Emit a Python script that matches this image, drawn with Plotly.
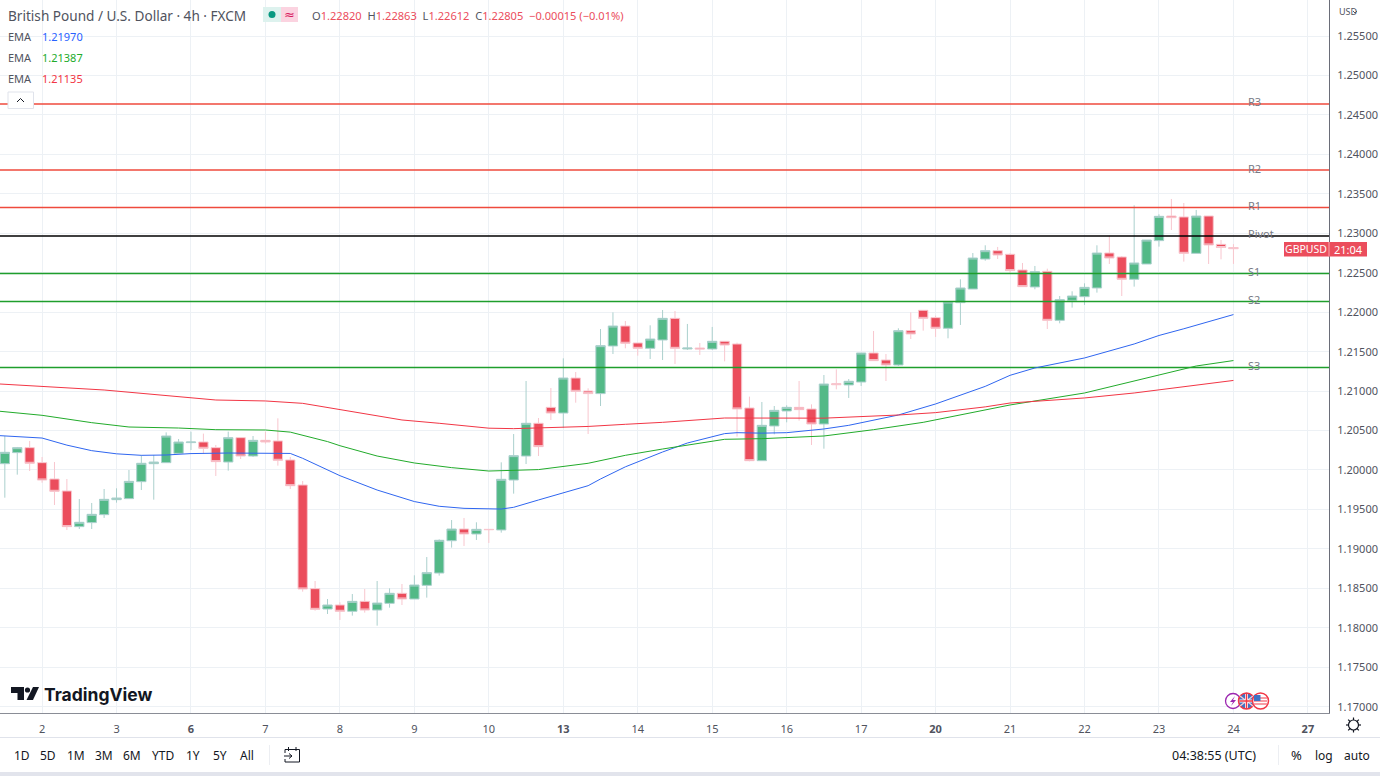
import plotly.graph_objects as go

# ---------- data ----------
bar_index = list(range(100))
opens = [1.20080,1.20220,1.20283,1.20093,1.19886,1.19734,1.19282,1.19333,1.19434,1.19624,
1.19637,1.19852,1.20080,1.20093,1.20211,1.20347,1.20355,1.20283,1.20101,1.20410,
1.20177,1.20376,1.20368,1.20127,1.19810,1.18496,1.18238,1.18289,1.18209,1.18335,
1.18225,1.18310,1.18437,1.18365,1.18538,1.18694,1.19104,1.19252,1.19189,1.19248,
1.19240,1.19873,1.20177,1.20592,1.20794,1.20722,1.21166,1.21001,1.20968,1.21572,
1.21825,1.21610,1.21542,1.21648,1.21922,1.21534,1.21546,1.21534,1.21631,1.21597,
1.20786,1.20118,1.20558,1.20748,1.20794,1.20773,1.20583,1.21094,1.21078,1.21115,
1.21483,1.21394,1.21331,1.21766,1.22024,1.21931,1.21796,1.22121,1.22294,1.22674,
1.22780,1.22734,1.22535,1.22320,1.22518,1.21897,1.22150,1.22197,1.22307,1.22750,
1.22700,1.22417,1.22611,1.22907,1.23219,1.23207,1.22746,1.23219,1.22860,1.22820]
highs = [1.20431,1.20292,1.20368,1.20165,1.20101,1.19886,1.19632,1.19582,1.19759,1.19768,
1.20000,1.20190,1.20190,1.20477,1.20393,1.20486,1.20461,1.20317,1.20486,1.20410,
1.20431,1.20486,1.20655,1.20165,1.19861,1.18593,1.18365,1.18323,1.18428,1.18492,
1.18593,1.18500,1.18555,1.18665,1.18897,1.19121,1.19366,1.19392,1.19337,1.19248,
1.20097,1.20456,1.21128,1.20659,1.21039,1.21415,1.21242,1.21035,1.21787,1.21998,
1.21889,1.21610,1.21834,1.22028,1.22015,1.21851,1.21610,1.21813,1.21631,1.21614,
1.20930,1.20862,1.20811,1.20820,1.21128,1.20832,1.21204,1.21276,1.21153,1.21483,
1.21762,1.21470,1.21796,1.21998,1.22024,1.21956,1.22142,1.22417,1.22750,1.22848,
1.22827,1.22746,1.22624,1.22586,1.22552,1.22205,1.22265,1.22366,1.22848,1.22970,
1.22712,1.23355,1.22915,1.23241,1.23435,1.23384,1.23296,1.23219,1.22915,1.22863]
lows = [1.19649,1.19941,1.19987,1.19839,1.19556,1.19239,1.19252,1.19252,1.19392,1.19586,
1.19637,1.19746,1.19624,1.20093,1.20211,1.20253,1.20211,1.19924,1.19992,1.20139,
1.20165,1.20334,1.20055,1.19759,1.18458,1.18217,1.18175,1.18099,1.18154,1.18192,
1.18027,1.18255,1.18289,1.18365,1.18382,1.18661,1.19016,1.19037,1.19113,1.19075,
1.19206,1.19700,1.20076,1.20177,1.20634,1.20532,1.20853,1.20456,1.20811,1.21470,
1.21542,1.21449,1.21407,1.21394,1.21344,1.21521,1.21458,1.21521,1.21377,1.20423,
1.20110,1.20118,1.20452,1.20604,1.20625,1.20317,1.20270,1.21022,1.20913,1.21065,
1.21386,1.21128,1.21318,1.21660,1.21766,1.21686,1.21669,1.21838,1.22294,1.22653,
1.22674,1.22493,1.22324,1.22290,1.21787,1.21859,1.22058,1.22091,1.22248,1.22611,
1.22205,1.22324,1.22611,1.22831,1.23042,1.22641,1.22746,1.22611,1.22670,1.22612]
closes = [1.20224,1.20283,1.20085,1.19873,1.19730,1.19282,1.19337,1.19438,1.19628,1.19645,
1.19856,1.20085,1.20101,1.20431,1.20355,1.20355,1.20275,1.20106,1.20410,1.20177,
1.20376,1.20355,1.20123,1.19801,1.18492,1.18234,1.18289,1.18209,1.18335,1.18225,
1.18314,1.18437,1.18365,1.18542,1.18699,1.19109,1.19252,1.19189,1.19248,1.19244,
1.19882,1.20182,1.20592,1.20296,1.20722,1.21166,1.20997,1.20968,1.21576,1.21825,
1.21606,1.21542,1.21660,1.21922,1.21542,1.21546,1.21534,1.21631,1.21584,1.20773,
1.20118,1.20566,1.20756,1.20794,1.20765,1.20583,1.21090,1.21082,1.21124,1.21483,
1.21386,1.21331,1.21766,1.21724,1.21922,1.21796,1.22129,1.22307,1.22687,1.22780,
1.22725,1.22527,1.22324,1.22514,1.21897,1.22159,1.22205,1.22315,1.22750,1.22687,
1.22417,1.22624,1.22915,1.23215,1.23198,1.22746,1.23219,1.22852,1.22820,1.22805]

ema_blue_x = [-0.39,3,5,7,9,11,13,15,18,20,23,24,26,27,30,33,35,37,40,41,43,47,48,50,53,55,58,59,61,63,66,68,72,75,79,81,83,87,91,93,95,99]
ema_blue = [1.20435,1.20405,1.20315,1.20245,1.20205,1.20186,1.20190,1.20208,1.20215,1.20215,1.20210,1.20148,1.20000,1.19928,1.19746,1.19600,1.19540,1.19514,1.19505,1.19527,1.19620,1.19801,1.19886,1.20040,1.20228,1.20342,1.20461,1.20473,1.20467,1.20473,1.20520,1.20566,1.20697,1.20837,1.21060,1.21200,1.21293,1.21420,1.21597,1.21705,1.21790,1.21970]
ema_green_x = [-0.39,3,7,10,14,17,21,23,26,27,30,33,36,39,43,47,50,53,58,61,66,70,74,79,81,87,91,96,99]
ema_green = [1.20744,1.20693,1.20600,1.20545,1.20532,1.20511,1.20507,1.20480,1.20360,1.20308,1.20177,1.20089,1.20030,1.19987,1.20005,1.20085,1.20186,1.20266,1.20389,1.20397,1.20431,1.20511,1.20604,1.20760,1.20824,1.20976,1.21128,1.21318,1.21387]
ema_red_x = [-0.39,8,17,21,24,26,32,35,39,41,47,50,53,58,66,72,75,79,81,87,91,99]
ema_red = [1.21090,1.21014,1.20887,1.20875,1.20845,1.20790,1.20634,1.20592,1.20530,1.20524,1.20552,1.20579,1.20604,1.20659,1.20657,1.20697,1.20727,1.20800,1.20849,1.20913,1.20976,1.21135]

pivot_names = ["R3","R2","R1","Pivot","S1","S2","S3"]
pivot_levels = [1.24639,1.23802,1.23327,1.22966,1.22490,1.22136,1.21299]
pivot_colors = ["#ef4a3c","#ef4a3c","#ef4a3c","#000000","#1f9e2c","#1f9e2c","#1f9e2c"]

day_ticks = [3,9,15,21,27,33,39,45,51,57,63,69,75,81,87,93,99,105]
day_labels = ["2","3","<b>6</b>","7","8","9","10","<b>13</b>","14","15","16","17","<b>20</b>","21","22","23","24","<b>27</b>"]
price_ticks = [1.17,1.175,1.18,1.185,1.19,1.195,1.20,1.205,1.21,1.215,1.22,1.225,1.23,1.235,1.24,1.245,1.25,1.255]
range_buttons = ["1D","5D","1M","3M","6M","YTD","1Y","5Y","All"]
range_button_x = [22,48,76,104,132,163,193,220,247]

FONT = "Noto Sans"
W, H = 1380, 776
UP, DOWN = "#53b987", "#eb4d5c"
def X(p): return p / W
def Y(p): return 1 - p / H

fig = go.Figure()
x_span = [-0.39, 106.7]
for lvl, col in zip(pivot_levels, pivot_colors):
    fig.add_trace(go.Scatter(x=x_span, y=[lvl, lvl], mode="lines", line=dict(color=col, width=1.5), hoverinfo="skip"))
for xs, ys, col in [(ema_blue_x, ema_blue, "#2f66f0"), (ema_green_x, ema_green, "#22ab2b"), (ema_red_x, ema_red, "#f23645")]:
    fig.add_trace(go.Scatter(x=xs, y=ys, mode="lines", line=dict(color=col, width=1), hoverinfo="skip"))
fig.add_trace(go.Candlestick(x=bar_index, open=opens, high=highs, low=lows, close=closes,
    increasing=dict(fillcolor=UP, line=dict(color="#abd0cd", width=1)),
    decreasing=dict(fillcolor=DOWN, line=dict(color="#f8c6ce", width=1)),
    whiskerwidth=0, hoverinfo="skip"))

ann = []
def T(x, y, text, size=11, color="#50535e", anchor="left", family=FONT):
    ann.append(dict(x=X(x), y=Y(y), xref="paper", yref="paper", text=text, showarrow=False, xanchor=anchor,
                    yanchor="middle", borderpad=0, font=dict(size=size, color=color, family=family), align="left"))

shapes = []
def rect(x0, y0, x1, y1, fill=None, line=None, lw=1, layer="above"):
    shapes.append(dict(type="rect", xref="paper", yref="paper", x0=X(x0), x1=X(x1), y0=Y(y0), y1=Y(y1),
                       fillcolor=fill or "rgba(0,0,0,0)", line=dict(color=line or "rgba(0,0,0,0)", width=lw if line else 0), layer=layer))
def seg(x0, y0, x1, y1, col="#131722", lw=1):
    shapes.append(dict(type="line", xref="paper", yref="paper", x0=X(x0), x1=X(x1), y0=Y(y0), y1=Y(y1), line=dict(color=col, width=lw), layer="above"))
def circ(cx, cy, r, fill=None, line=None, lw=1):
    shapes.append(dict(type="circle", xref="paper", yref="paper", x0=X(cx-r), x1=X(cx+r), y0=Y(cy+r), y1=Y(cy-r),
                       fillcolor=fill or "rgba(0,0,0,0)", line=dict(color=line or "rgba(0,0,0,0)", width=lw if line else 0), layer="above"))
def poly(pts, fill="#131722"):
    d = "M" + " L".join(f"{X(a):.5f},{Y(b):.5f}" for a, b in pts) + " Z"
    shapes.append(dict(type="path", xref="paper", yref="paper", path=d, fillcolor=fill, line=dict(width=0), layer="above"))

# legend block
T(7, 15, "British Pound / U.S. Dollar · 4h · FXCM", 13.6, "#50535e")
rect(263, 7, 281, 22, fill="#ddf2ee"); rect(281, 7, 298, 22, fill="#fbd3e0")
circ(272, 14.5, 3.5, fill="#089981")
T(289.5, 14, "≈", 13, "#d81b60", "center", "DejaVu Sans")
v = "#eb4d5c"; g = "#50535e"
T(311, 15, f"<span style='color:{g}'>O</span>1.22820  <span style='color:{g}'>H</span>1.22863  <span style='color:{g}'>L</span>1.22612  <span style='color:{g}'>C</span>1.22805  −0.00015 (−0.01%)", 11.1, v)
for y, val, col in [(36, "1.21970", "#2962ff"), (58, "1.21387", "#22ab2b"), (79, "1.21135", "#f23645")]:
    T(7, y, "EMA", 11, "#50535e")
    T(41, y, val, 11, col)
rect(8, 92, 33.5, 108.5, fill="#ffffff", line="#e0e3eb")
seg(17, 102, 20.5, 98.5, "#131722", 1); seg(20.5, 98.5, 24, 102, "#131722", 1)

# pivot labels
for name, lvl in zip(pivot_names, pivot_levels):
    ann.append(dict(x=100.05, y=lvl, xref="x", yref="y", text=name, showarrow=False, xanchor="left", yanchor="middle",
                    yshift=2, font=dict(size=11, color="#787b86", family=FONT)))

# price tag
rect(1284, 242, 1367, 256.5, fill=DOWN)
seg(1329, 242, 1329, 256.5, "#f4a6ae", 1)
T(1306, 249.5, "GBPUSD", 10.5, "#ffffff", "center")
T(1348, 249.5, "21:04", 11, "#ffffff", "center")
T(1338, 12, "USD", 9, "#50535e")
seg(1353, 11, 1355, 13, "#50535e", 1); seg(1355, 13, 1357, 11, "#50535e", 1)

# watermark logo
poly([(11,687),(24,687),(24,700),(17.5,700),(17.5,693),(11,693)], "#131722")
circ(27.5, 690, 2.6, fill="#131722")
poly([(33,687),(39,687),(33,700),(26.5,700)], "#131722")
T(43, 694, "<b>TradingView</b>", 17.5, "#131722", family="Inter")

# events
circ(1233, 701, 7.5, fill="#ffffff", line="#9c27b0", lw=1.3)
poly([(1235,696),(1230,702),(1233,702),(1231,706),(1236,700),(1233,700)], "#9c27b0")
circ(1246.5, 701, 8, fill="#3f72c4", line="#f23645", lw=1.5)
seg(1240, 696, 1253, 706, "#f6c9cf", 1.5); seg(1240, 706, 1253, 696, "#f6c9cf", 1.5)
seg(1239.5, 701, 1253.5, 701, "#ffffff", 3); seg(1246.5, 694, 1246.5, 708, "#ffffff", 3)
seg(1239.5, 701, 1253.5, 701, "#f23645", 1.5); seg(1246.5, 694, 1246.5, 708, "#f23645", 1.5)
circ(1260.5, 701, 8, fill="#ffffff", line="#f23645", lw=1.5)
for yy in (698, 701, 704):
    seg(1254, yy, 1267, yy, "#f4727d", 1.4)
rect(1254, 695, 1260.5, 701, fill="#3f72c4")

# bottom bar
rect(0, 737, W, 738, fill="#e0e3eb")
rect(0, 772, W, H, fill="#e2e4ec")
for lab, px in zip(range_buttons, range_button_x):
    T(px, 755, lab, 12, "#131722", "center")
rect(269, 745, 270, 765, fill="#eceef2")
rect(285, 749.5, 299.5, 762, line="#131722")
seg(288.5, 747, 288.5, 751, "#131722"); seg(296, 747, 296, 751, "#131722")
rect(284, 753, 292, 759, fill="#ffffff")
seg(284, 756, 292, 756, "#131722"); seg(289, 753.5, 292, 756, "#131722"); seg(292, 756, 289, 758.5, "#131722")
T(1214, 755, "04:38:55 (UTC)", 12.5, "#131722", "center")
rect(1278, 745, 1279, 765, fill="#eceef2")
T(1296, 755, "%", 13, "#131722", "center")
T(1324, 755, "log", 12, "#131722", "center")
T(1357, 755, "auto", 12, "#131722", "center")

# gear
circ(1353.5, 725, 5, line="#131722", lw=1.2)
for a, b, c, d in [(1353.5,717.5,1353.5,720),(1353.5,730,1353.5,732.5),(1346,725,1348.5,725),(1358.5,725,1361,725),
                   (1348.2,719.7,1350,721.5),(1357,728.5,1358.8,730.3),(1348.2,730.3,1350,728.5),(1357,721.5,1358.8,719.7)]:
    seg(a, b, c, d, "#131722", 1.2)

fig.update_layout(
    width=W, height=H, margin=dict(l=0, r=0, t=0, b=0, pad=0), showlegend=False,
    paper_bgcolor="#ffffff", plot_bgcolor="#ffffff", boxgap=0.25, boxgroupgap=0,
    font=dict(family=FONT, size=11, color="#50535e"),
    annotations=ann, shapes=shapes, hovermode=False,
    xaxis=dict(domain=[0, 1329/W], range=x_span, tickmode="array", tickvals=day_ticks, ticktext=day_labels,
               showgrid=True, gridcolor="#edf1f5", gridwidth=1, zeroline=False, rangeslider=dict(visible=False),
               showline=True, linecolor="#8a8d96", linewidth=1.2, ticks="outside", ticklen=6, tickcolor="rgba(0,0,0,0)",
               tickfont=dict(size=11, color="#50535e", family=FONT)),
    yaxis=dict(domain=[1-713/H, 1], range=[1.16920, 1.25957], side="right", tickmode="array", tickvals=price_ticks,
               ticktext=[f"{t:.5f}" for t in price_ticks], showgrid=True, gridcolor="#edf1f5", gridwidth=1, zeroline=False,
               showline=True, linecolor="#6a6d78", linewidth=1.2, ticks="outside", ticklen=5, tickcolor="rgba(0,0,0,0)",
               tickfont=dict(size=11, color="#50535e", family=FONT)),
)
fig.write_html("out.html", config=dict(displayModeBar=False, responsive=False),
               post_script="document.body.style.margin='0';")
